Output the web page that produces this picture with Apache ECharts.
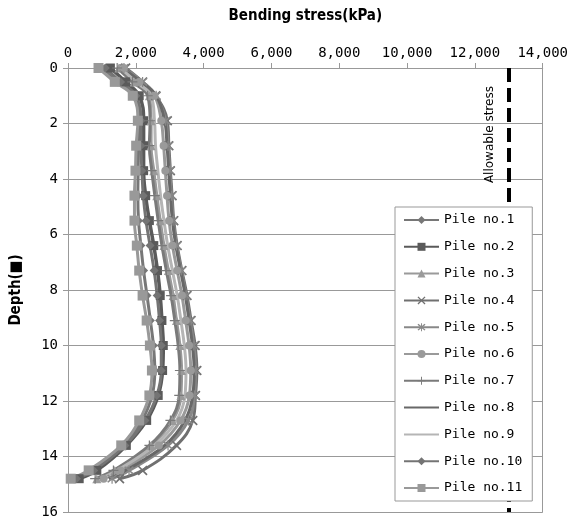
<!DOCTYPE html>
<html>
<head>
<meta charset="utf-8">
<script src="https://cdn.jsdelivr.net/npm/echarts@6/dist/echarts.min.js"></script>
<style>html,body{margin:0;padding:0;background:#fff;}#chart{width:571px;height:524px;}</style>
</head>
<body>
<div id="chart"></div>
<script>
const depths = [0, 0.5, 1.0, 1.9, 2.8, 3.7, 4.6, 5.5, 6.4, 7.3, 8.2, 9.1, 10.0, 10.9, 11.8, 12.7, 13.6, 14.5, 14.8];
const pileNames = ['Pile no.1','Pile no.2','Pile no.3','Pile no.4','Pile no.5','Pile no.6','Pile no.7','Pile no.8','Pile no.9','Pile no.10','Pile no.11'];
const pile1  = [1000, 1450, 1950, 2100, 2080, 2070, 2060, 2080, 2150, 2230, 2330, 2430, 2520, 2560, 2480, 2180, 1620, 680, 150];
const pile2  = [1250, 1700, 2100, 2230, 2230, 2230, 2290, 2400, 2530, 2640, 2720, 2770, 2810, 2790, 2660, 2320, 1720, 850, 330];
const pile3  = [1500, 1950, 2400, 2450, 2450, 2530, 2620, 2720, 2830, 2960, 3100, 3200, 3300, 3350, 3330, 3080, 2450, 1380, 850];
const pile4  = [1700, 2200, 2590, 2930, 2975, 3020, 3070, 3120, 3220, 3360, 3510, 3630, 3750, 3800, 3760, 3680, 3200, 2200, 1520];
const pile5  = [1650, 2200, 2600, 2880, 2950, 3000, 3050, 3100, 3200, 3340, 3480, 3600, 3710, 3760, 3730, 3550, 2950, 1800, 1300];
const pile6  = [1650, 2100, 2550, 2750, 2820, 2870, 2920, 2980, 3080, 3220, 3360, 3470, 3570, 3620, 3580, 3320, 2680, 1550, 1050];
const pile7  = [1450, 1900, 2350, 2420, 2400, 2470, 2560, 2660, 2770, 2900, 3040, 3150, 3250, 3300, 3280, 3020, 2400, 1340, 800];
const pile8  = [1600, 2150, 2600, 2850, 2920, 2970, 3020, 3080, 3180, 3320, 3460, 3570, 3670, 3720, 3680, 3450, 2850, 1700, 1200];
const pile9  = [1550, 2000, 2450, 2550, 2580, 2650, 2730, 2830, 2940, 3080, 3220, 3330, 3430, 3480, 3450, 3200, 2550, 1450, 950];
const pile10 = [1100, 1550, 2000, 2150, 2150, 2180, 2220, 2300, 2420, 2540, 2630, 2700, 2750, 2750, 2620, 2270, 1680, 760, 250];
const pile11 = [900, 1380, 1910, 2060, 2010, 1990, 1960, 1960, 2030, 2100, 2200, 2320, 2415, 2475, 2400, 2100, 1570, 610, 80];
const allowableStress = 13000;
const allowableLabel = 'Allowable stress';

const piles = [pile1, pile2, pile3, pile4, pile5, pile6, pile7, pile8, pile9, pile10, pile11];

const X_PATH = 'path://M0,1.2 L1.2,0 L10,8.8 L8.8,10 Z M8.8,0 L10,1.2 L1.2,10 L0,8.8 Z';
const STAR_PATH = 'path://M0,1.2 L1.2,0 L10,8.8 L8.8,10 Z M8.8,0 L10,1.2 L1.2,10 L0,8.8 Z M4.4,-1 L5.6,-1 L5.6,11 L4.4,11 Z';
const PLUS_PATH = 'path://M4.4,0 L5.6,0 L5.6,10 L4.4,10 Z M0,4.4 L10,4.4 L10,5.6 L0,5.6 Z';

const styles = [
  {color:'#777777', symbol:'diamond', size:9, width:3},
  {color:'#5a5a5a', symbol:'rect', size:9, width:3.5},
  {color:'#9a9a9a', symbol:'triangle', size:9, width:3},
  {color:'#707070', symbol:X_PATH, size:10, width:3},
  {color:'#888888', symbol:STAR_PATH, size:10, width:3},
  {color:'#9a9a9a', symbol:'circle', size:8, width:3},
  {color:'#7a7a7a', symbol:PLUS_PATH, size:10, width:3},
  {color:'#686868', symbol:'none', size:0, width:3},
  {color:'#b5b5b5', symbol:'none', size:0, width:3},
  {color:'#747474', symbol:'diamond', size:9, width:3},
  {color:'#999999', symbol:'rect', size:10, width:3}
];

const chart = echarts.init(document.getElementById('chart'), null, {renderer:'canvas'});
const monoFont = '"DejaVu Sans Mono", monospace';

const series = piles.map((vals, i) => {
  const s = styles[i];
  const o = {
    name: pileNames[i],
    type: 'line',
    data: vals.map((v, k) => [v, depths[k]]),
    smooth: 0.4,
    symbol: s.symbol,
    symbolSize: s.size,
    showSymbol: s.symbol !== 'none',
    lineStyle: {color: s.color, width: s.width},
    itemStyle: {color: s.color},
    xAxisIndex: 0, yAxisIndex: 0
  };
  if (i === piles.length - 1) {
    o.markLine = {
      silent: true,
      symbol: 'none',
      z: 1,
      label: {show: false},
      lineStyle: {color: '#000', width: 4, type: [14, 6]},
      data: [{xAxis: allowableStress}]
    };
  }
  return o;
});

const legendData = pileNames.map((n, i) => styles[i].symbol === 'none'
  ? {name: n, itemStyle: {opacity: 0, color: 'rgba(0,0,0,0)', borderWidth: 0}}
  : {name: n});

chart.setOption({
  animation: false,
  backgroundColor: '#fff',
  grid: {left: 68, right: 27, top: 68, bottom: 12},
  xAxis: [{
    type: 'value', position: 'top', min: 0, max: 14000, interval: 2000,
    name: 'Bending stress(kPa)', nameLocation: 'middle', nameGap: 44,
    nameTextStyle: {fontFamily: '"DejaVu Sans Condensed", "DejaVu Sans", sans-serif', fontWeight: 'bold', fontSize: 15, color: '#000'},
    axisLine: {show: true, lineStyle: {color: '#999', width: 1}},
    axisTick: {show: true, inside: false, length: 5, lineStyle: {color: '#999'}},
    axisLabel: {fontFamily: monoFont, fontSize: 14, color: '#000', margin: 8,
      formatter: v => v.toLocaleString('en-US')},
    splitLine: {show: false}
  }],
  yAxis: [{
    type: 'value', inverse: true, min: 0, max: 16, interval: 2,
    name: 'Depth(■)', nameLocation: 'middle', nameGap: 44, nameRotate: 90,
    nameTextStyle: {fontFamily: '"DejaVu Sans Condensed", "DejaVu Sans", sans-serif', fontWeight: 'bold', fontSize: 15, color: '#000'},
    axisLine: {show: true, lineStyle: {color: '#999', width: 1}},
    axisTick: {show: true, inside: false, length: 5, lineStyle: {color: '#999'}},
    axisLabel: {fontFamily: monoFont, fontSize: 14, color: '#000', margin: 10},
    splitLine: {show: true, lineStyle: {color: '#999', width: 1}}
  }, {
    type: 'value', inverse: true, min: 0, max: 16, position: 'right',
    axisLine: {show: true, lineStyle: {color: '#999', width: 1}},
    axisTick: {show: false}, axisLabel: {show: false}, splitLine: {show: false}
  }],
  legend: {
    orient: 'vertical', left: 395, top: 207,
    z: 20,
    padding: [6, 10, 6, 8],
    itemWidth: 35, itemHeight: 10, itemGap: 12.8,
    backgroundColor: '#fff', borderColor: '#999', borderWidth: 1,
    textStyle: {fontFamily: monoFont, fontSize: 13, lineHeight: 14, color: '#000'},
    data: legendData
  },
  series: series
});

const p = chart.convertToPixel({xAxisIndex: 0, yAxisIndex: 0}, [allowableStress, 2.4]);
chart.setOption({
  graphic: [{
    type: 'text', x: p[0] - 19, y: p[1], rotation: Math.PI / 2,
    style: {text: allowableLabel, fontFamily: '"DejaVu Sans", sans-serif', fontSize: 12, fill: '#000', align: 'center', verticalAlign: 'middle'}
  }]
});
</script>
</body>
</html>
